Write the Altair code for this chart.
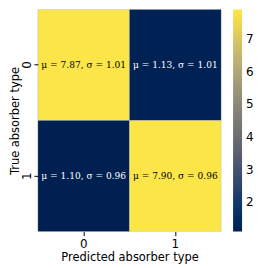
import altair as alt
import pandas as pd

predicted = ["0", "1", "0", "1"]
true_type = ["0", "0", "1", "1"]
mu = [7.87, 1.13, 1.10, 7.90]
sigma = [1.01, 1.01, 0.96, 0.96]

df = pd.DataFrame({"pred": predicted, "true": true_type, "mu": mu, "sigma": sigma})
df["label"] = [f"μ = {m:.2f}, σ = {s:.2f}" for m, s in zip(mu, sigma)]

x = alt.X("pred:N", title="Predicted absorber type",
          axis=alt.Axis(labelAngle=0, labelFontSize=12, titleFontSize=11.5, titleFontWeight="normal",
                        labelColor="black", titleColor="black", tickColor="black", domain=False,
                        titlePadding=2, labelPadding=3, tickSize=4))
y = alt.Y("true:N", title="True absorber type",
          axis=alt.Axis(labelAngle=-90, labelFontSize=12, titleFontSize=11.5, titleFontWeight="normal",
                        labelColor="black", titleColor="black", tickColor="black", domain=False,
                        labelBaseline="middle", labelAlign="center", titlePadding=0, labelPadding=7, tickSize=4))

base = alt.Chart(df)
rect = base.mark_rect(stroke="#9aa5b5", strokeWidth=0.3).encode(
    x=x, y=y,
    color=alt.Color("mu:Q", scale=alt.Scale(scheme="cividis", domain=[1.10, 7.90]),
                    legend=alt.Legend(title=None, values=[2, 3, 4, 5, 6, 7], gradientLength=223,
                                      gradientThickness=9, labelFontSize=12, labelColor="black",
                                      offset=12, gradientStrokeWidth=0, labelOffset=4)),
)
text = base.mark_text(font="DejaVu Serif", fontSize=9.1).encode(
    x=x, y=y, text="label:N",
    color=alt.condition(alt.datum.mu > 4, alt.value("black"), alt.value("white")),
)

chart = (rect + text).properties(
    width=184, height=223, padding={"left": 2, "top": 0, "right": 0, "bottom": 0}
).configure_view(strokeWidth=0).configure_axis(
    labelFont="DejaVu Sans", titleFont="DejaVu Sans").configure_legend(labelFont="DejaVu Sans")

chart.save("out.html", embed_options={"renderer": "svg", "actions": False})
